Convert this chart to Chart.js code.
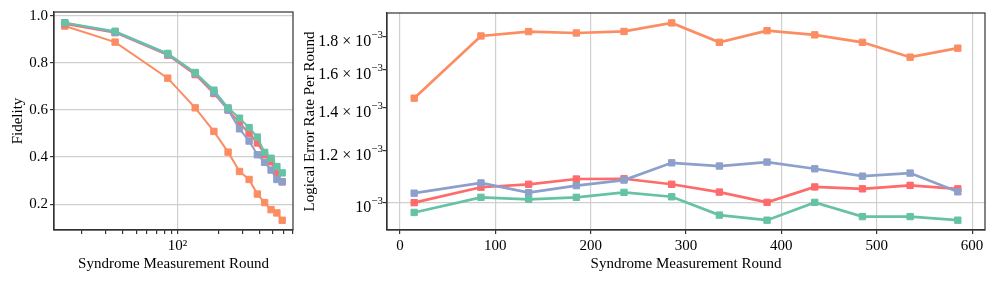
<!DOCTYPE html>
<html lang="en">
<head>
<meta charset="UTF-8">
<title>Fidelity and logical error rate per round</title>
<script src="https://cdn.jsdelivr.net/npm/chart.js"></script>
<style>
  body { margin: 0; background: #fff; }
  .wrap { position: relative; width: 996px; height: 285px; }
  #fidChart { position: absolute; left: 0; top: 0; }
  #rateChart { position: absolute; left: 300px; top: 0; }
</style>
</head>
<body>
<div class="wrap">
  <canvas id="fidChart" width="300" height="285"></canvas>
  <canvas id="rateChart" width="696" height="285"></canvas>
</div>
<script>
// rounds
const fidRounds = [15, 35, 85, 135, 185, 235, 285, 335, 385, 435, 485, 535, 585];
const rateRounds = [15, 85, 135, 185, 235, 285, 335, 385, 435, 485, 535, 585];

// fidelity (left)
const fidGreen  = [0.970, 0.934, 0.840, 0.759, 0.684, 0.609, 0.565, 0.525, 0.485, 0.420, 0.395, 0.360, 0.333];
const fidBlue   = [0.970, 0.930, 0.835, 0.755, 0.675, 0.600, 0.520, 0.468, 0.410, 0.378, 0.345, 0.305, 0.295];
const fidRed    = [0.965, 0.928, 0.833, 0.750, 0.670, 0.600, 0.545, 0.500, 0.460, 0.410, 0.380, 0.330, 0.295];
const fidOrange = [0.956, 0.888, 0.735, 0.609, 0.509, 0.421, 0.339, 0.305, 0.243, 0.207, 0.177, 0.163, 0.132];

// logical error rate per round (right)
const rateOrange = [1.446e-3, 1.801e-3, 1.829e-3, 1.820e-3, 1.830e-3, 1.886e-3, 1.761e-3, 1.835e-3, 1.808e-3, 1.761e-3, 1.671e-3, 1.725e-3];
const rateBlue   = [1.034e-3, 1.072e-3, 1.036e-3, 1.062e-3, 1.083e-3, 1.151e-3, 1.138e-3, 1.154e-3, 1.127e-3, 1.098e-3, 1.110e-3, 1.039e-3];
const rateRed    = [1.000e-3, 1.056e-3, 1.067e-3, 1.087e-3, 1.088e-3, 1.067e-3, 1.038e-3, 1.001e-3, 1.057e-3, 1.050e-3, 1.063e-3, 1.050e-3];
const rateGreen  = [0.966e-3, 1.019e-3, 1.012e-3, 1.019e-3, 1.037e-3, 1.021e-3, 0.957e-3, 0.940e-3, 1.001e-3, 0.952e-3, 0.952e-3, 0.940e-3];

// ticks
const fidYTicks = [0.2, 0.4, 0.6, 0.8, 1.0];
const fidXTicks = [20, 30, 40, 50, 60, 70, 80, 90, 100, 200, 300, 400, 500, 600, 700];
const rateXTicks = [0, 100, 200, 300, 400, 500, 600];
const rateYTicks = [1.0e-3, 1.2e-3, 1.4e-3, 1.6e-3, 1.8e-3];
const rateYMantissa = ["", "1.2", "1.4", "1.6", "1.8"];

const GREEN = "#66c2a5", BLUE = "#8da0cb", RED = "#ff6b6b", ORANGE = "#fc8d62";
const GRID = "#cfcfcf", AXIS = "#333333";
const SERIF = "'Liberation Serif', 'DejaVu Serif', serif";

Chart.defaults.font.family = SERIF;
Chart.defaults.font.size = 15;
Chart.defaults.color = "#000";

// draw the full box around the plot like matplotlib
const framePlugin = {
  id: "frame",
  afterDraw(chart) {
    const { ctx, chartArea: a } = chart;
    ctx.save();
    ctx.strokeStyle = AXIS;
    ctx.lineWidth = 1.2;
    ctx.strokeRect(a.left, a.top, a.right - a.left, a.bottom - a.top);
    ctx.restore();
  },
};

// y labels like "1.8 × 10^-3" with a real raised exponent
const expLabelPlugin = {
  id: "expLabels",
  afterDraw(chart) {
    const { ctx, chartArea } = chart;
    const ys = chart.scales.y;
    const right = chartArea.left - 4;
    ctx.save();
    ctx.fillStyle = "#000";
    ctx.textAlign = "right";
    ctx.textBaseline = "alphabetic";
    rateYTicks.forEach((v, i) => {
      const py = ys.getPixelForValue(v);
      ctx.font = "11px " + SERIF;
      const exp = "\u22123";
      const w = ctx.measureText(exp).width;
      ctx.fillText(exp, right, py + 1.5);
      ctx.font = "16px " + SERIF;
      const m = rateYMantissa[i];
      const base = m ? m + " \u00D7 10" : "10";
      ctx.fillText(base, right - w, py + 9.5);
    });
    ctx.restore();
  },
};

function series(data, color, order, width) {
  return {
    data: data,
    borderColor: color,
    backgroundColor: color,
    borderWidth: width,
    pointStyle: "rect",
    pointRadius: 4.5,
    pointBorderWidth: 1,
    pointBackgroundColor: color,
    pointBorderColor: color,
    tension: 0,
    order: order,
  };
}

function toPoints(xs, ys) {
  return xs.map((x, i) => ({ x: x, y: ys[i] }));
}

function setTicks(list) {
  return (scale) => { scale.ticks = list.map((v) => ({ value: v })); };
}

new Chart(document.getElementById("fidChart"), {
  type: "line",
  data: {
    datasets: [
      series(toPoints(fidRounds, fidGreen), GREEN, 0, 2),
      series(toPoints(fidRounds, fidBlue), BLUE, 1, 2),
      series(toPoints(fidRounds, fidRed), RED, 2, 2),
      series(toPoints(fidRounds, fidOrange), ORANGE, 3, 2),
    ],
  },
  options: {
    responsive: false,
    animation: false,
    layout: { padding: { top: 12, right: 7, bottom: 0, left: 0 } },
    plugins: { legend: { display: false }, tooltip: { enabled: false } },
    scales: {
      x: {
        type: "logarithmic",
        min: 12.5,
        max: 702,
        afterBuildTicks: setTicks(fidXTicks),
        afterFit: (s) => { s.height = 55; },
        grid: {
          color: (c) => (c.tick && c.tick.value === 100 ? GRID : "rgba(0,0,0,0)"),
          tickColor: AXIS,
          tickLength: 4,
          lineWidth: 1.2,
        },
        border: { color: AXIS, width: 1.2 },
        ticks: {
          autoSkip: false,
          maxRotation: 0,
          padding: 3,
          callback: (v) => (v === 100 ? "10\u00B2" : ""),
        },
        title: {
          display: true,
          text: "Syndrome Measurement Round",
          font: { size: 15 },
          padding: { top: 0, bottom: 12 },
        },
      },
      y: {
        type: "linear",
        min: 0.0906,
        max: 1.0157,
        afterBuildTicks: setTicks(fidYTicks),
        afterFit: (s) => { s.width = 54; },
        grid: { color: GRID, tickColor: AXIS, tickLength: 4, lineWidth: 1.2 },
        border: { color: AXIS, width: 1.2 },
        ticks: { padding: 2, callback: (v) => v.toFixed(1) },
        title: {
          display: true,
          text: "Fidelity",
          font: { size: 15 },
          padding: { top: 9, bottom: 0 },
        },
      },
    },
  },
  plugins: [framePlugin],
});

new Chart(document.getElementById("rateChart"), {
  type: "line",
  data: {
    datasets: [
      series(toPoints(rateRounds, rateGreen), GREEN, 0, 2.7),
      series(toPoints(rateRounds, rateBlue), BLUE, 1, 2.7),
      series(toPoints(rateRounds, rateRed), RED, 2, 2.7),
      series(toPoints(rateRounds, rateOrange), ORANGE, 3, 2.7),
    ],
  },
  options: {
    responsive: false,
    animation: false,
    layout: { padding: { top: 13, right: 11, bottom: 0, left: 0 } },
    plugins: { legend: { display: false }, tooltip: { enabled: false } },
    scales: {
      x: {
        type: "linear",
        min: -13.5,
        max: 613.5,
        afterBuildTicks: setTicks(rateXTicks),
        afterFit: (s) => { s.height = 55; },
        grid: { color: GRID, tickColor: AXIS, tickLength: 4, lineWidth: 1.2 },
        border: { color: AXIS, width: 1.2 },
        ticks: { autoSkip: false, maxRotation: 0, padding: 3 },
        title: {
          display: true,
          text: "Syndrome Measurement Round",
          font: { size: 15 },
          padding: { top: 0, bottom: 12 },
        },
      },
      y: {
        type: "logarithmic",
        min: 0.908e-3,
        max: 1.953e-3,
        afterBuildTicks: setTicks(rateYTicks),
        afterFit: (s) => { s.width = 87; },
        grid: {
          color: (c) => (c.tick && Math.abs(c.tick.value - 1e-3) < 1e-9 ? GRID : "rgba(0,0,0,0)"),
          tickColor: AXIS,
          tickLength: 4,
          lineWidth: 1.2,
        },
        border: { color: AXIS, width: 1.2 },
        ticks: { padding: 2, callback: () => "" },
        title: {
          display: true,
          text: "Logical Error Rate Per Round",
          font: { size: 15 },
          padding: { top: 1, bottom: 0 },
        },
      },
    },
  },
  plugins: [framePlugin, expLabelPlugin],
});
</script>
</body>
</html>
